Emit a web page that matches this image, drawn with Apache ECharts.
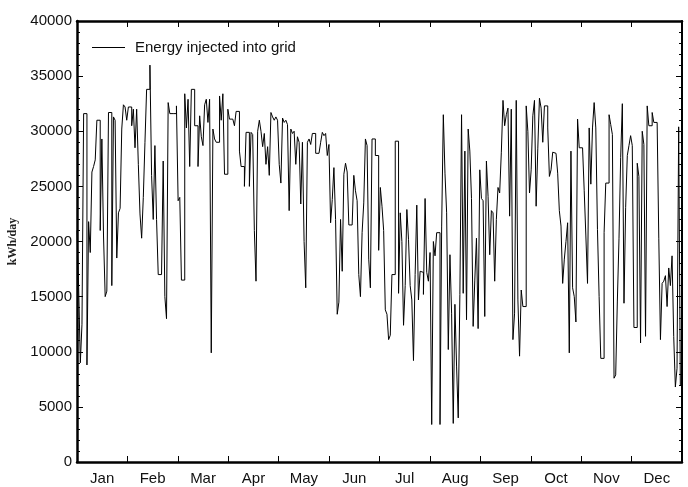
<!DOCTYPE html>
<html><head><meta charset="utf-8">
<script src="https://cdn.jsdelivr.net/npm/echarts@6/dist/echarts.min.js"></script>
<style>html,body{margin:0;padding:0;background:#fff}#c{width:688px;height:487px}</style>
</head><body><div id="c"></div>
<script>
const months = ['Jan','Feb','Mar','Apr','May','Jun','Jul','Aug','Sep','Oct','Nov','Dec'];
const seriesName = 'Energy injected into grid';
const yName = 'kWh/day';
const energy = [
21000,15800,9000,12500,31600,31600,8800,21800,19000,26300,
26800,27400,31000,31000,21000,29300,20500,15000,15500,31700,
31700,16000,31300,31000,18500,22600,23000,30200,32400,32200,
31000,32200,32200,30500,32000,28500,
32000,27000,22500,20300,24000,29000,33800,33800,36000,26000,
22000,28700,22000,17000,17000,17000,27300,15000,13000,32600,
31600,31600,31600,31600,32300,23700,24000,16500,16500,33400,
30300,32900,26800,33800,33800,30500,30500,
26800,31400,29500,28700,32400,32900,30800,32900,9900,30200,
29300,29000,29000,33200,31000,33400,26100,26100,32000,31100,
31100,31100,30500,31800,31800,28200,26800,26800,25000,29900,
29900,25000,29900,29700,21000,
16400,30000,31000,30000,28600,29800,27000,28600,26000,31700,
31300,31000,31300,31000,27000,25300,31200,30800,31000,30600,
22800,30200,29800,30000,27000,29500,29000,23400,29000,20000,
15800,29000,29300,28800,29800,29800,28000,
28000,28000,29000,29900,29600,29800,27800,28800,21700,23800,
26700,22000,13400,14500,22000,17300,26100,27100,26300,21500,
21500,21500,26000,24600,23700,17000,15000,20800,23500,29300,
28700,18400,15800,29300,29300,27800,27800,
19200,24900,23200,21000,13800,13400,11100,11500,17000,17000,
29100,29100,15300,22600,20000,12400,16000,22900,20200,16000,
14700,9200,17000,23300,14700,17300,17200,15200,23900,17200,
16400,19000,3400,20000,18700,20800,
20800,3400,21400,31500,26200,22600,10200,18800,13500,3500,
14300,8700,4000,15200,31500,15300,28200,12900,30200,28200,
23900,12300,16500,20300,12100,26500,23900,23700,13200,27300,
24100,18800,22800,22600,16400,22000,
24900,24400,28100,32800,30500,31500,32100,22300,32000,11100,
13500,32800,14700,9600,15600,14100,14100,32300,30000,24400,
26500,31400,32800,23200,28400,33000,32100,29000,32300,32300,
30300,25900,26500,28100,28000,28000,
26200,22800,21400,16200,18400,20000,21700,9900,28200,15800,
15000,12700,31100,28500,28500,28500,24600,20500,16200,30300,
25200,30300,32600,30300,21100,15000,9400,9400,20800,25300,
25300,31500,30600,29700,7600,7900,14600,
20300,27600,32500,14400,23100,27800,28700,29600,28700,12200,
12200,27100,25900,10800,30000,28800,11400,32300,30500,30500,
31700,30800,30800,30800,20300,11100,16200,16400,16900,14100,
17600,16000,18700,11400,6800,8500,30400,7000
];

const chart = echarts.init(document.getElementById('c'), null, {renderer: 'canvas'});
const pts = energy.map((v, i) => [i, v]);
pts.push([energy.length, energy[energy.length - 1]]);
const font = '"Liberation Sans", Arial, sans-serif';
const axisLineStyle = {color: '#000', width: 2.5};
const tickStyle = {color: '#000', width: 1};
const option = {
  animation: false,
  backgroundColor: '#fff',
  grid: {left: 77, right: 6, top: 21, bottom: 25, containLabel: false, outerBoundsMode: 'none'},
  legend: {
    left: 87, top: 35, itemWidth: 33, itemHeight: 1, itemGap: 10,
    textStyle: {fontFamily: font, fontSize: 15, color: '#111', padding: [0, 0, 0, 5]},
    data: [{name: seriesName, icon: 'rect', itemStyle: {color: '#000'}}]
  },
  xAxis: [
    {type: 'category', data: months, position: 'bottom', boundaryGap: true,
     axisLine: {show: true, onZero: false, lineStyle: axisLineStyle},
     axisTick: {show: true, inside: true, length: 6, lineStyle: tickStyle},
     axisLabel: {fontFamily: font, fontSize: 15, color: '#111', margin: 9},
     splitLine: {show: false}},
    {type: 'value', min: 0, max: energy.length, interval: energy.length / 12, position: 'top',
     axisLine: {show: true, onZero: false, lineStyle: axisLineStyle},
     axisTick: {show: true, inside: true, length: 6, lineStyle: tickStyle},
     axisLabel: {show: false}, splitLine: {show: false}}
  ],
  yAxis: [
    {type: 'value', min: 0, max: 40000, interval: 5000, position: 'left',
     axisLine: {show: true, onZero: false, lineStyle: axisLineStyle},
     axisTick: {show: true, inside: true, length: 6, lineStyle: tickStyle},
     minorTick: {show: true, splitNumber: 5, length: 3, lineStyle: tickStyle},
     splitLine: {show: false},
     axisLabel: {fontFamily: font, fontSize: 15, color: '#111', margin: 5, formatter: v => String(v)},
     name: yName, nameLocation: 'middle', nameGap: 50, nameRotate: 90,
     nameTextStyle: {fontFamily: '"Liberation Serif", "Times New Roman", serif', fontSize: 12, fontWeight: 'bold', color: '#222'}},
    {type: 'value', min: 0, max: 40000, interval: 5000, position: 'right',
     axisLine: {show: true, onZero: false, lineStyle: {color: '#000', width: 2}},
     axisTick: {show: true, inside: true, length: 6, lineStyle: tickStyle},
     minorTick: {show: true, splitNumber: 5, length: 3, lineStyle: tickStyle},
     splitLine: {show: false}, axisLabel: {show: false}}
  ],
  series: [{
    name: seriesName, type: 'line', xAxisIndex: 1, yAxisIndex: 0,
    step: 'end', symbol: 'none', showSymbol: false, data: pts,
    lineStyle: {color: '#000', width: 1}, itemStyle: {color: '#000'}
  }]
};
chart.setOption(option);
</script>
</body></html>
